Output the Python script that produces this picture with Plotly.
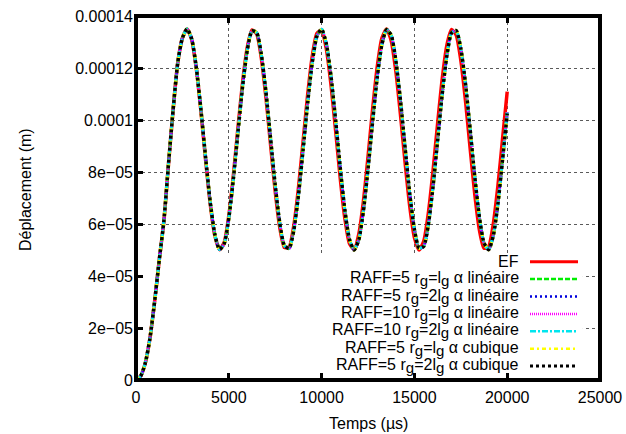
import plotly.graph_objects as go

# ---------------- data ----------------
time_us = [0, 250, 500, 750, 1000, 1250, 1500, 1750, 2000, 2250, 2500, 2750,
           3000, 3250, 3500, 3750, 4000, 4250, 4500, 4750, 5000, 5250, 5500, 5750,
           6000, 6250, 6500, 6750, 7000, 7250, 7500, 7750, 8000, 8250, 8500, 8750,
           9000, 9250, 9500, 9750, 10000, 10250, 10500, 10750, 11000, 11250, 11500, 11750,
           12000, 12250, 12500, 12750, 13000, 13250, 13500, 13750, 14000, 14250, 14500, 14750,
           15000, 15250, 15500, 15750, 16000, 16250, 16500, 16750, 17000, 17250, 17500, 17750,
           18000, 18250, 18500, 18750, 19000, 19250, 19500, 19750, 20000]

# EF reference solution (micrometres)
ef_um = [0.0, 1.5, 6.5, 16.0, 30.0, 46.0, 61.0, 83.0, 104.0, 122.0, 131.5, 135.0,
         131.0, 119.7, 103.2, 84.7, 67.7, 55.4, 50.1, 52.9, 63.2, 79.0, 97.5, 114.9,
         128.1, 134.6, 133.1, 123.9, 108.7, 90.5, 72.6, 58.5, 50.9, 51.2, 59.3, 73.7,
         91.6, 109.8, 124.7, 133.4, 134.4, 127.5, 113.9, 96.3, 77.9, 62.3, 52.5, 50.2,
         56.0, 68.6, 85.8, 104.3, 120.6, 131.5, 135.0, 130.5, 118.7, 102.0, 83.5, 66.7,
         54.8, 50.0, 53.3, 64.1, 80.2, 98.6, 115.9, 128.8, 134.8, 132.7, 123.0, 107.6,
         89.3, 71.6, 57.8, 50.7, 51.4, 60.0, 74.7, 92.8, 110.9]

# approximated solutions (micrometres) - all nearly superimposed
approx_um = [0.0, 1.5, 6.5, 16.0, 30.0, 46.0, 61.0, 83.0, 104.0, 122.0, 131.5, 135.0,
             131.2, 120.1, 103.9, 85.5, 68.4, 55.9, 50.2, 52.4, 62.2, 77.6, 95.8, 113.4,
             127.1, 134.3, 133.6, 125.3, 110.8, 92.9, 74.9, 60.2, 51.6, 50.6, 57.5, 70.9,
             88.4, 106.7, 122.3, 132.3, 134.9, 129.5, 117.2, 100.2, 81.9, 65.5, 54.1, 50.0,
             53.8, 64.9, 81.1, 99.5, 116.6, 129.1, 134.8, 132.6, 122.8, 107.4, 89.2, 71.6,
             57.9, 50.7, 51.4, 59.7, 74.2, 92.1, 110.1, 124.8, 133.5, 134.4, 127.5, 114.1,
             96.6, 78.3, 62.7, 52.7, 50.1, 55.5, 67.8, 84.8]

SUB_G = "<sub><span style='font-size:15px'>g</span></sub>"
series_names = [
    "EF",
    f"RAFF=5 r{SUB_G}=l{SUB_G} α linéaire",
    f"RAFF=5 r{SUB_G}=2l{SUB_G} α linéaire",
    f"RAFF=10 r{SUB_G}=l{SUB_G} α linéaire",
    f"RAFF=10 r{SUB_G}=2l{SUB_G} α linéaire",
    f"RAFF=5 r{SUB_G}=l{SUB_G} α cubique",
    f"RAFF=5 r{SUB_G}=2l{SUB_G} α cubique",
]
# final value at t = 20000 µs for each approximated series (micrometres)
approx_end_um = [103.5, 102.5, 103.0, 102.8, 102.0, 102.5]

x_ticks = [0, 5000, 10000, 15000, 20000, 25000]
y_ticks = [0, 2e-05, 4e-05, 6e-05, 8e-05, 0.0001, 0.00012, 0.00014]
y_tick_text = ["0", "2e\u221205", "4e\u221205", "6e\u221205", "8e\u221205", "0.0001", "0.00012", "0.00014"]

x_title = "Temps (µs)"
y_title = "Déplacement (m)"

# ---------------- styles ----------------
colors = ["#ff0000", "#00ee00", "#0000dd", "#ff00ff", "#00e5ee", "#ffff00", "#000000"]
dashes = ["solid", "5px,2px", "2px,3px", "1px,1px", "6px,2px,2px,2px", "4px,3px,2px,3px", "3px,3px"]
widths = [3.5, 3, 3, 3, 3, 3.5, 3.5]
leg_widths = [3, 2.5, 2.5, 2.5, 2.5, 2.5, 3]
FONT = "Liberation Sans, Arial, Helvetica, sans-serif"

fig = go.Figure()

series_values = [ef_um] + [approx_um + [end] for end in approx_end_um]
for name, vals, c, d, w in zip(series_names, series_values, colors, dashes, widths):
    fig.add_trace(go.Scatter(
        x=time_us, y=[v * 1e-6 for v in vals], mode="lines", name=name,
        line=dict(color=c, dash=d, width=w, shape="spline", smoothing=0.6),
        showlegend=False, hoverinfo="skip"))

# plot area geometry in px
L, R, T, B = 136, 26, 16, 54
W, H = 626, 434
PW, PH = W - L - R, H - T - B

def px_x(px):
    return (px - L) / PW

def px_y(py):
    return (H - B - py) / PH

shapes = []
annotations = []

# white area below the lowest trough hides the grid (grid not drawn there in reference)
shapes.append(dict(type="rect", xref="x", yref="y", x0=0, x1=24080, y0=0, y1=4.87e-05,
                   fillcolor="white", line=dict(width=0), layer="between"))

# custom legend (text right aligned, sample on the right)
row0, row_step = 261.7, 17.4
for i, (name, c, d, w) in enumerate(zip(series_names, colors, dashes, leg_widths)):
    py = row0 + i * row_step
    annotations.append(dict(text=name, xref="paper", yref="paper", x=px_x(521), y=px_y(py),
                            xanchor="right", yanchor="middle", showarrow=False,
                            font=dict(family=FONT, size=16, color="black")))
    shapes.append(dict(type="line", xref="paper", yref="paper", x0=px_x(530), x1=px_x(578),
                       y0=px_y(py), y1=px_y(py), line=dict(color=c, dash=d, width=w),
                       layer="above"))

# thick frame
shapes.append(dict(type="rect", xref="paper", yref="paper", x0=0, x1=1, y0=0, y1=1,
                   line=dict(color="black", width=4), fillcolor="rgba(0,0,0,0)", layer="above"))

# axis titles
annotations.append(dict(text=x_title, xref="paper", yref="paper", x=0.5, y=0, yshift=-43,
                        xanchor="center", yanchor="middle", showarrow=False,
                        font=dict(family=FONT, size=16, color="black")))
annotations.append(dict(text=y_title, xref="paper", yref="paper", x=0, y=0.5, xshift=-111, yshift=8,
                        xanchor="center", yanchor="middle", showarrow=False, textangle=-90,
                        font=dict(family=FONT, size=16, color="black")))

fig.update_layout(
    width=W, height=H,
    margin=dict(l=L, r=R, t=T, b=B, autoexpand=False),
    paper_bgcolor="white", plot_bgcolor="white",
    font=dict(family=FONT, size=16, color="black"),
    shapes=shapes, annotations=annotations,
    xaxis=dict(range=[0, 25000], tickvals=x_ticks, ticktext=[str(v) for v in x_ticks],
               ticks="inside", ticklen=7, tickwidth=3, tickcolor="black", mirror="ticks",
               showline=False, zeroline=False, showgrid=True, griddash="dot",
               gridcolor="rgb(90,90,90)", gridwidth=1, ticklabelstandoff=6,
               tickfont=dict(family=FONT, size=16, color="black")),
    yaxis=dict(range=[0, 0.00014], tickvals=y_ticks, ticktext=y_tick_text,
               ticks="inside", ticklen=7, tickwidth=3, tickcolor="black",
               showline=False, zeroline=False, showgrid=True, griddash="dot",
               gridcolor="rgb(90,90,90)", gridwidth=1, ticklabelstandoff=2,
               tickfont=dict(family=FONT, size=16, color="black")),
)

fig.write_html("out.html", config={"displayModeBar": False, "staticPlot": True},
               post_script="document.body.style.margin='0';document.body.style.padding='0';")
